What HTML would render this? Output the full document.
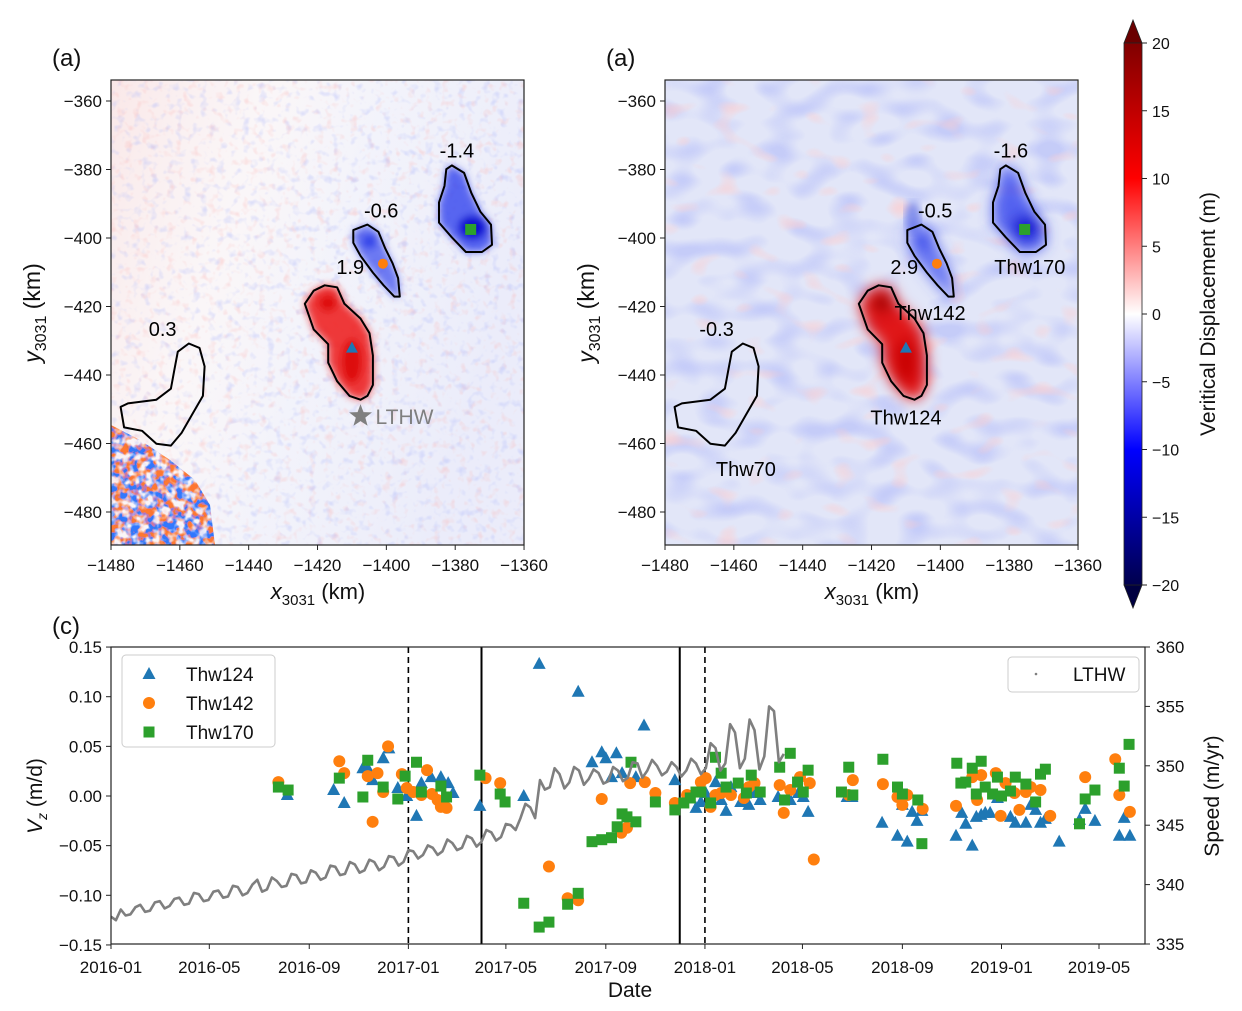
<!DOCTYPE html>
<html><head><meta charset="utf-8"><style>
html,body{margin:0;padding:0;background:#fff;}
svg{display:block;font-family:"Liberation Sans","DejaVu Sans",sans-serif;}
</style></head><body>
<svg id="fig" width="1242" height="1011" viewBox="0 0 1242 1011" xmlns="http://www.w3.org/2000/svg">
<defs>
  <filter id="speckRed" x="0" y="0" width="100%" height="100%">
    <feTurbulence type="fractalNoise" baseFrequency="0.12" numOctaves="2" seed="3"/>
    <feColorMatrix type="matrix" values="0 0 0 0 0.95  0 0 0 0 0.45  0 0 0 0 0.45  3.2 0 0 0 -1.8"/>
  </filter>
  <filter id="speckBlue" x="0" y="0" width="100%" height="100%">
    <feTurbulence type="fractalNoise" baseFrequency="0.12" numOctaves="2" seed="11"/>
    <feColorMatrix type="matrix" values="0 0 0 0 0.45  0 0 0 0 0.5  0 0 0 0 0.95  3.2 0 0 0 -1.75"/>
  </filter>
  <filter id="smoothRed" x="0" y="0" width="100%" height="100%">
    <feTurbulence type="fractalNoise" baseFrequency="0.035 0.06" numOctaves="1" seed="5"/>
    <feColorMatrix type="matrix" values="0 0 0 0 1  0 0 0 0 0.6  0 0 0 0 0.6  4 0 0 0 -2.4"/>
  </filter>
  <filter id="smoothBlue" x="0" y="0" width="100%" height="100%">
    <feTurbulence type="fractalNoise" baseFrequency="0.03 0.05" numOctaves="1" seed="8"/>
    <feColorMatrix type="matrix" values="0 0 0 0 0.45  0 0 0 0 0.5  0 0 0 0 0.95  3.5 0 0 0 -1.6"/>
  </filter>
  <filter id="darkNoise" x="0" y="0" width="100%" height="100%">
    <feTurbulence type="fractalNoise" baseFrequency="0.13" numOctaves="2" seed="21"/>
    <feColorMatrix type="matrix" values="6 0 0 0 -2.6  0 0 0 0 0.1  -6 0 0 0 3.4  0 4 0 0 -1.3"/>
  </filter>
  <filter id="blur4"><feGaussianBlur stdDeviation="4"/></filter>
  <filter id="blur7"><feGaussianBlur stdDeviation="7"/></filter>
  <linearGradient id="leftTint" x1="0" y1="0" x2="1" y2="0.35">
    <stop offset="0" stop-color="#f8e2e2" stop-opacity="0.8"/>
    <stop offset="0.35" stop-color="#f6eef1" stop-opacity="0.5"/>
    <stop offset="0.6" stop-color="#eaebf8" stop-opacity="0.6"/>
    <stop offset="1" stop-color="#e4e6f8" stop-opacity="0.75"/>
  </linearGradient>
  <linearGradient id="cbarGrad" x1="0" y1="1" x2="0" y2="0">
    <stop offset="0" stop-color="#00004d"/>
    <stop offset="0.25" stop-color="#0000ff"/>
    <stop offset="0.5" stop-color="#ffffff"/>
    <stop offset="0.75" stop-color="#ff0000"/>
    <stop offset="1" stop-color="#800000"/>
  </linearGradient>
  <clipPath id="clipL"><rect x="111" y="80" width="413" height="465"/></clipPath>
  <clipPath id="clipR"><rect x="665" y="80" width="412" height="465"/></clipPath>
  <clipPath id="clipC"><rect x="111" y="647" width="1034" height="297"/></clipPath>
  <clipPath id="clipCorner"><polygon points="111,425 140,440 170,460 195,480 210,505 215,545 111,545"/></clipPath>
</defs>
<g id="mapL"></g>
<g id="mapR"></g>
<g id="cbar"></g>
<g id="chartC"></g>
</svg>
<script>
const NS='http://www.w3.org/2000/svg';
function mk(parent,tag,attrs,text){const e=document.createElementNS(NS,tag);for(const k in attrs)e.setAttribute(k,attrs[k]);if(text!==undefined)e.textContent=text;parent.appendChild(e);return e;}

/* ---------------- Map data (km, EPSG:3031) ---------------- */
const mapXTicks=[-1480,-1460,-1440,-1420,-1400,-1380,-1360];
const mapYTicks=[-360,-380,-400,-420,-440,-460,-480];
const contourThw170=[[-1381.0,-378.8],[-1377.4,-381.0],[-1375.3,-386.9],[-1372.7,-392.3],[-1369.6,-396.1],[-1369.3,-402.0],[-1372.2,-404.1],[-1376.9,-404.1],[-1381.0,-399.8],[-1384.7,-395.5],[-1384.7,-389.6],[-1383.1,-384.8],[-1382.6,-379.9]];
const contourThw142=[[-1409.6,-397.7],[-1405.5,-396.1],[-1402.3,-398.2],[-1400.3,-403.1],[-1398.2,-407.4],[-1396.6,-411.7],[-1396.1,-417.1],[-1397.7,-417.1],[-1400.8,-413.8],[-1403.9,-410.1],[-1407.5,-405.2],[-1409.6,-401.4]];
const contourThw124=[[-1417.9,-413.8],[-1414.3,-414.4],[-1412.2,-419.2],[-1407.5,-423.5],[-1404.9,-427.8],[-1403.9,-434.3],[-1403.9,-442.9],[-1405.5,-446.1],[-1407.5,-447.2],[-1410.7,-446.1],[-1414.3,-441.8],[-1416.9,-436.4],[-1416.9,-431.0],[-1421.1,-426.7],[-1423.7,-419.2],[-1421.1,-415.4]];
const contourThw70=[[-1460.6,-433.2],[-1457.4,-430.8],[-1454.3,-432.1],[-1452.8,-437.5],[-1453.3,-446.1],[-1456.4,-451.5],[-1459.5,-456.9],[-1462.6,-460.6],[-1466.8,-460.1],[-1471.0,-456.3],[-1476.2,-455.3],[-1477.2,-449.3],[-1475.1,-448.3],[-1466.8,-447.2],[-1462.6,-444.0],[-1461.6,-438.6]];
const siteThw124=[-1410,-432], siteThw142=[-1401,-407.5], siteThw170=[-1375.5,-397.5], siteLTHW=[-1407.5,-452];
const meanLeft=['0.3','1.9','-0.6','-1.4'];
const meanRight=['-0.3','2.9','-0.5','-1.6'];
const meanLabelPos=[[-1465,-426.5],[-1410.5,-408.5],[-1401.5,-392],[-1379.5,-374.5]];

function mapAxes(x0){
  const X=km=>x0+(km+1480)*3.442;
  const Y=km=>101+(-360-km)*3.425;
  return {X,Y};
}
function pts(arr,A){return arr.map(p=>A.X(p[0]).toFixed(1)+','+A.Y(p[1]).toFixed(1)).join(' ');}

function drawMap(g,x0,smooth,means,showNames){
  const A=mapAxes(x0);
  const clip=smooth?'url(#clipR)':'url(#clipL)';
  const bg=mk(g,'g',{'clip-path':clip});
  
  
  mk(bg,'rect',{x:x0,y:80,width:413,height:465,fill:'#ffffff'});
  if(!smooth){
    mk(bg,'rect',{x:x0,y:80,width:413,height:465,fill:'url(#leftTint)'});
    mk(bg,'rect',{x:x0,y:80,width:413,height:465,filter:'url(#speckRed)',opacity:0.35});
    mk(bg,'rect',{x:x0,y:80,width:413,height:465,filter:'url(#speckBlue)',opacity:0.4});
    const c=mk(bg,'g',{'clip-path':'url(#clipCorner)'});
    mk(c,'rect',{x:x0,y:420,width:130,height:130,filter:'url(#darkNoise)',opacity:0.8});
  } else {
    mk(bg,'rect',{x:x0,y:80,width:413,height:465,fill:'#e2e6f8'});
    mk(bg,'rect',{x:x0,y:80,width:413,height:465,filter:'url(#smoothBlue)',opacity:0.6});
    mk(bg,'rect',{x:x0,y:80,width:413,height:465,filter:'url(#smoothRed)',opacity:0.7});
    mk(bg,'ellipse',{cx:A.X(-1408),cy:A.Y(-394),rx:8,ry:16,fill:'#6f7ee8',filter:'url(#blur4)',opacity:0.8});
  }
  const blobs=mk(bg,'g',{filter:smooth?'url(#blur7)':'url(#blur4)'});
  mk(blobs,'polygon',{points:pts(contourThw124,A),fill:smooth?'#e00000':'#ee2222',opacity:0.9});
  mk(blobs,'ellipse',{cx:A.X(-1410),cy:A.Y(-436),rx:10,ry:22,fill:smooth?'#c80000':'#dd0a0a'});
  mk(blobs,'ellipse',{cx:A.X(-1417),cy:A.Y(-419),rx:9,ry:8,fill:smooth?'#900000':'#dd1010'});
  mk(blobs,'polygon',{points:pts(contourThw142,A),fill:'#4a5af0',opacity:0.8});
  mk(blobs,'ellipse',{cx:A.X(-1405),cy:A.Y(-401),rx:7,ry:7,fill:'#2f3fe8'});
  mk(blobs,'polygon',{points:pts(contourThw170,A),fill:'#3c4cef',opacity:0.85});
  mk(blobs,'ellipse',{cx:A.X(-1375),cy:A.Y(-397),rx:14,ry:12,fill:'#0a10d0'});
  [['contour-thw124',contourThw124],['contour-thw142',contourThw142],['contour-thw170',contourThw170],['contour-thw70',contourThw70]].forEach(([n,c])=>{
    const p=mk(g,'polygon',{points:pts(c,A),fill:'none',stroke:'#000','stroke-width':2,'stroke-linejoin':'round'});
    
    
  });
  const t=siteThw124;const tx=A.X(t[0]),ty=A.Y(t[1]);
  const tri=mk(g,'polygon',{points:`${tx},${ty-6} ${tx-6},${ty+5} ${tx+6},${ty+5}`,fill:'#1f77b4'});
  
  
  const cir=mk(g,'circle',{cx:A.X(siteThw142[0]),cy:A.Y(siteThw142[1]),r:5,fill:'#ff7f0e'});
  
  
  const sq=mk(g,'rect',{x:A.X(siteThw170[0])-5.5,y:A.Y(siteThw170[1])-5.5,width:11,height:11,fill:'#2ca02c'});
  
  
  if(!smooth){
    const sx=A.X(siteLTHW[0]),sy=A.Y(siteLTHW[1]);let s='';
    for(let i=0;i<10;i++){const r=i%2?5:12;const a=-Math.PI/2+i*Math.PI/5;s+=(sx+r*Math.cos(a)).toFixed(1)+','+(sy+r*Math.sin(a)).toFixed(1)+' ';}
    const st=mk(g,'polygon',{points:s,fill:'#7f7f7f'});
    
    
    const lt=mk(g,'text',{x:sx+15,y:sy+8,'font-size':21,fill:'#7f7f7f'},'LTHW');
    
    
  }
  means.forEach((m,i)=>{
    const tt=mk(g,'text',{x:A.X(meanLabelPos[i][0]),y:A.Y(meanLabelPos[i][1])+7,'font-size':20,'text-anchor':'middle',fill:'#000'},m);
    
    
  });
  if(showNames){
    const nm=[['Thw170',-1374,-410.5],['Thw142',-1403,-424],['Thw124',-1410,-454.5],['Thw70',-1456.5,-469.5]];
    nm.forEach(n=>{
      const tt=mk(g,'text',{x:A.X(n[1]),y:A.Y(n[2]),'font-size':20,'text-anchor':'middle',fill:'#000'},n[0]);
      
      
    });
  }
  mk(g,'rect',{x:x0,y:80,width:413,height:465,fill:'none',stroke:'#222','stroke-width':1.2});
  mapXTicks.forEach(v=>{
    const x=A.X(v);
    mk(g,'line',{x1:x,y1:545,x2:x,y2:550,stroke:'#222'});
    const tl=mk(g,'text',{x:x,y:571,'font-size':17,'text-anchor':'middle',fill:'#111'},'\u2212'+Math.abs(v));
    
    
  });
  mapYTicks.forEach(v=>{
    const y=A.Y(v);
    mk(g,'line',{x1:x0-5,y1:y,x2:x0,y2:y,stroke:'#222'});
    const tl=mk(g,'text',{x:x0-9,y:y+6,'font-size':17,'text-anchor':'end',fill:'#111'},'\u2212'+Math.abs(v));
    
    
  });
  const xt=mk(g,'text',{x:x0+207,y:599,'font-size':22,'text-anchor':'middle',fill:'#111'});
  xt.innerHTML='<tspan font-style="italic">x</tspan><tspan font-size="15" dy="6">3031</tspan><tspan dy="-6"> (km)</tspan>';
  
  
  const yt=mk(g,'text',{x:0,y:0,'font-size':23,'text-anchor':'middle',fill:'#111',transform:`translate(${x0-71},313) rotate(-90)`});
  yt.innerHTML='<tspan font-style="italic">y</tspan><tspan font-size="16" dy="6">3031</tspan><tspan dy="-6"> (km)</tspan>';
  
  
  const pl=mk(g,'text',{x:x0-59,y:66,'font-size':24,fill:'#111'},'(a)');
  
  
}
drawMap(document.getElementById('mapL'),111,false,meanLeft,false);
drawMap(document.getElementById('mapR'),665,true,meanRight,true);

/* ---------------- Colorbar ---------------- */
const cbTicks=[20,15,10,5,0,-5,-10,-15,-20];
(function(){
  const g=document.getElementById('cbar');
  const Yc=v=>314-v*13.55;
  mk(g,'polygon',{points:`1124,${Yc(20)} 1133,20 1142,${Yc(20)}`,fill:'#6a0000',stroke:'#222','stroke-width':0.8});
  mk(g,'polygon',{points:`1124,${Yc(-20)} 1133,608 1142,${Yc(-20)}`,fill:'#000040',stroke:'#222','stroke-width':0.8});
  mk(g,'rect',{x:1124,y:Yc(20),width:18,height:Yc(-20)-Yc(20),fill:'url(#cbarGrad)',stroke:'#222','stroke-width':0.8});
  cbTicks.forEach(v=>{
    mk(g,'line',{x1:1142,y1:Yc(v),x2:1147,y2:Yc(v),stroke:'#222'});
    const t=mk(g,'text',{x:1152,y:Yc(v)+6,'font-size':16,fill:'#111'},v<0?'\u2212'+Math.abs(v):String(v));
    
    
  });
  const ti=mk(g,'text',{x:0,y:0,'font-size':21,'text-anchor':'middle',fill:'#111',transform:'translate(1215,314) rotate(-90)'},'Veritical Displacement (m)');
  
  
})();

/* ---------------- Chart (c) data ---------------- */
const xTickLabels=['2016-01','2016-05','2016-09','2017-01','2017-05','2017-09','2018-01','2018-05','2018-09','2019-01','2019-05'];
const xTickDays=[0,121,244,366,486,609,731,851,974,1096,1216];
const vzTicks=[0.15,0.10,0.05,0.00,-0.05,-0.10,-0.15];
const speedTicks=[360,355,350,345,340,335];
const thw124Days=[217,274,287,310,316,322,335,342,353,364,376,382,394,406,415,421,454,508,527,575,592,604,609,622,616,629,646,656,694,720,726,732,744,751,757,763,775,785,790,799,821,836,846,852,858,906,912,949,968,974,980,986,992,998,1040,1047,1052,1060,1065,1071,1076,1082,1091,1107,1113,1126,1132,1138,1144,1150,1167,1192,1199,1211,1241,1247,1254];
const thw124Vz=[0.001,0.006,-0.007,0.028,0.028,0.016,0.038,0.048,0.008,0.0,-0.02,0.013,0.019,0.019,0.013,0.003,-0.01,0.0,0.133,0.105,0.034,0.044,0.038,0.043,0.019,0.023,0.019,0.071,0.016,-0.012,-0.006,0.003,0.014,-0.004,-0.015,0.009,-0.006,-0.009,0.003,-0.004,-0.001,-0.004,0.003,-0.001,-0.016,-0.001,-0.001,-0.027,-0.04,-0.009,-0.046,-0.016,-0.025,-0.015,-0.04,-0.017,-0.028,-0.05,-0.021,-0.019,-0.017,-0.017,-0.002,-0.021,-0.027,-0.027,-0.009,-0.014,-0.027,-0.023,-0.046,-0.024,-0.013,-0.025,-0.04,-0.022,-0.04];
const thw142Days=[206,281,287,316,322,328,335,341,358,364,372,382,389,395,402,406,413,461,479,539,562,575,604,628,635,639,657,670,694,709,726,732,738,744,751,763,779,785,792,823,828,836,848,860,865,908,913,950,968,974,980,999,1040,1060,1066,1071,1089,1095,1101,1112,1118,1126,1132,1144,1156,1199,1236,1241,1254];
const thw142Vz=[0.014,0.035,0.023,0.020,-0.026,0.023,0.004,0.050,0.022,0.008,0.004,0.001,0.026,0.002,-0.004,-0.011,-0.012,0.018,0.013,-0.071,-0.103,-0.105,-0.003,-0.037,-0.032,0.013,0.014,0.003,-0.007,0.001,0.014,0.018,-0.011,0.001,0.003,0.001,-0.002,0.009,0.013,0.011,-0.017,0.006,0.019,0.013,-0.064,0.001,0.016,0.012,-0.001,-0.009,0.001,-0.013,-0.010,0.019,-0.004,0.021,0.023,-0.020,0.013,0.003,-0.014,0.004,0.009,0.006,-0.020,0.019,0.037,0.001,-0.016];
const thw170Days=[206,218,281,310,316,335,353,362,376,382,406,413,454,479,485,508,527,539,562,575,592,604,616,623,629,635,646,640,670,694,705,713,720,726,738,744,751,757,772,782,788,799,823,829,836,845,852,858,899,908,913,950,968,974,993,998,1041,1046,1052,1060,1065,1071,1076,1085,1091,1096,1107,1113,1126,1138,1144,1150,1192,1199,1211,1241,1247,1253];
const thw170Vz=[0.009,0.006,0.018,-0.001,0.036,0.009,-0.003,0.020,0.034,0.004,0.010,-0.001,0.021,0.002,-0.006,-0.108,-0.132,-0.127,-0.109,-0.098,-0.046,-0.044,-0.042,-0.031,-0.018,-0.021,-0.026,0.034,-0.006,-0.014,-0.007,-0.002,0.004,0.004,-0.007,0.039,0.023,0.009,0.013,0.003,0.021,0.004,0.029,-0.004,0.043,0.014,0.004,0.026,0.004,0.029,0.001,0.037,0.009,0.002,-0.004,-0.048,0.033,0.013,0.014,0.028,0.002,0.035,0.009,0.002,0.019,0.000,0.005,0.019,0.012,-0.006,0.022,0.027,-0.028,-0.003,0.006,0.028,0.010,0.052];
const lthwDays=[0,6,12,18,24,30,36,42,48,54,60,66,72,78,84,90,96,102,108,114,120,126,132,138,144,150,156,162,168,174,180,186,192,198,204,210,216,222,228,234,240,246,252,258,264,270,276,282,288,294,300,306,312,318,324,330,336,342,348,354,360,366,372,378,384,390,396,402,408,414,420,426,432,438,444,450,456,462,468,474,480,486,492,498,504,510,516,522,528,534,540,546,552,558,564,570,576,582,588,594,600,606,612,618,624,630,636,642,648,654,660,666,672,678,684,690,696,702,708,714,720,726,732,738,744,750,756,762,768,774,780,786,792,798,804,810,816,822,828];
const lthwSpeed=[337.3,337.0,337.9,337.4,337.5,338.1,338.3,337.7,337.8,338.5,338.6,338.0,338.2,338.8,338.9,338.3,338.4,339.3,339.2,338.6,338.7,339.4,339.5,338.9,339.0,339.9,339.8,339.1,339.3,340.0,340.4,339.4,339.6,340.6,340.3,339.8,339.9,340.9,340.8,340.1,340.2,341.2,341.0,340.4,340.6,341.6,341.5,340.8,340.9,341.9,341.7,341.0,341.2,342.1,341.9,341.2,341.5,342.4,342.3,341.6,341.9,342.9,342.8,342.2,342.5,343.3,343.1,342.5,342.8,343.8,343.5,342.9,343.1,344.1,343.9,343.2,343.6,344.6,344.4,343.7,344.0,345.1,345.0,344.6,345.6,346.8,346.5,345.6,348.8,348.0,348.2,349.8,349.3,348.1,348.6,349.9,349.6,348.4,348.9,349.7,349.4,348.5,348.7,349.9,349.6,348.7,349.0,350.3,350.2,349.0,349.6,350.5,350.0,349.2,349.5,350.3,349.9,349.1,349.6,350.6,350.2,349.3,349.8,351.9,351.5,349.6,350.2,353.5,352.8,349.8,350.6,353.9,353.0,349.7,350.8,355.0,354.6,350.3,351.0];
const dashedEventDays=[366,731];
const solidEventDays=[456,700];

(function(){
  const g=document.getElementById('chartC');
  const L=111,R=1145,T=647,B=944;
  const X=d=>L+d*0.8125;
  const Yv=v=>796-v*993;
  const Ys=s=>647+(360-s)*11.88;
  mk(g,'rect',{x:L,y:T,width:R-L,height:B-T,fill:'#fff'});
  const pc=mk(g,'g',{'clip-path':'url(#clipC)'});
  dashedEventDays.forEach(d=>{const l=mk(pc,'line',{x1:X(d),y1:T,x2:X(d),y2:B,stroke:'#000','stroke-width':1.6,'stroke-dasharray':'6,4'});
    
    });
  solidEventDays.forEach(d=>{const l=mk(pc,'line',{x1:X(d),y1:T,x2:X(d),y2:B,stroke:'#000','stroke-width':2});
    
    });
  const s1=mk(pc,'g',{});
  
  
  thw124Days.forEach((d,i)=>{const x=X(d),y=Yv(thw124Vz[i]);
    const m=mk(s1,'polygon',{points:`${x},${y-7} ${x-6.5},${y+5} ${x+6.5},${y+5}`,fill:'#1f77b4'});
    
    });
  const s2=mk(pc,'g',{});
  
  
  thw142Days.forEach((d,i)=>{const m=mk(s2,'circle',{cx:X(d),cy:Yv(thw142Vz[i]),r:6,fill:'#ff7f0e'});
    
    });
  const s3=mk(pc,'g',{});
  
  
  thw170Days.forEach((d,i)=>{const m=mk(s3,'rect',{x:X(d)-5.5,y:Yv(thw170Vz[i])-5.5,width:11,height:11,fill:'#2ca02c'});
    
    });
  const line=mk(pc,'polyline',{points:lthwDays.map((d,i)=>X(d).toFixed(1)+','+Ys(lthwSpeed[i]).toFixed(1)).join(' '),fill:'none',stroke:'#7f7f7f','stroke-width':2.6,'stroke-linejoin':'round'});
  
  
  mk(g,'rect',{x:L,y:T,width:R-L,height:B-T,fill:'none',stroke:'#222','stroke-width':1.2});
  xTickDays.forEach((d,i)=>{const x=X(d);
    mk(g,'line',{x1:x,y1:B,x2:x,y2:B+5,stroke:'#222'});
    const t=mk(g,'text',{x:x,y:973,'font-size':17,'text-anchor':'middle',fill:'#111'},xTickLabels[i]);
    
    });
  vzTicks.forEach(v=>{const y=Yv(v);
    mk(g,'line',{x1:L-5,y1:y,x2:L,y2:y,stroke:'#222'});
    const t=mk(g,'text',{x:L-9,y:y+6,'font-size':17,'text-anchor':'end',fill:'#111'},(v<0?'\u2212':'')+Math.abs(v).toFixed(2));
    
    });
  speedTicks.forEach(s=>{const y=Ys(s);
    mk(g,'line',{x1:R,y1:y,x2:R+5,y2:y,stroke:'#222'});
    const t=mk(g,'text',{x:R+11,y:y+6,'font-size':17,fill:'#111'},String(s));
    
    });
  const xt=mk(g,'text',{x:630,y:997,'font-size':21,'text-anchor':'middle',fill:'#111'},'Date');
  
  
  const yt=mk(g,'text',{x:0,y:0,'font-size':21,'text-anchor':'middle',fill:'#111',transform:'translate(42,796) rotate(-90)'});
  yt.innerHTML='<tspan font-style="italic">V</tspan><tspan font-size="14" font-style="italic" dy="5">z</tspan><tspan dy="-5"> (m/d)</tspan>';
  
  
  const y2=mk(g,'text',{x:0,y:0,'font-size':21,'text-anchor':'middle',fill:'#111',transform:'translate(1219,796) rotate(-90)'},'Speed (m/yr)');
  
  
  const pl=mk(g,'text',{x:52,y:634,'font-size':24,fill:'#111'},'(c)');
  
  
  const lg=mk(g,'g',{});
  
  
  mk(lg,'rect',{x:122,y:655,width:153,height:92,rx:4,fill:'#fff',stroke:'#ccc'});
  const e1=mk(lg,'polygon',{points:'149,667 142.5,679 155.5,679',fill:'#1f77b4'});
  
  
  mk(lg,'text',{x:186,y:681,'font-size':19,fill:'#111'},'Thw124');
  const e2=mk(lg,'circle',{cx:149,cy:703,r:6,fill:'#ff7f0e'});
  
  
  mk(lg,'text',{x:186,y:710,'font-size':19,fill:'#111'},'Thw142');
  const e3=mk(lg,'rect',{x:143.5,y:726.5,width:11,height:11,fill:'#2ca02c'});
  
  
  mk(lg,'text',{x:186,y:739,'font-size':19,fill:'#111'},'Thw170');
  const lg2=mk(g,'g',{});
  
  
  mk(lg2,'rect',{x:1008,y:657,width:131,height:35,rx:4,fill:'#fff',stroke:'#ccc'});
  mk(lg2,'circle',{cx:1036,cy:674,r:1.3,fill:'#7f7f7f'});
  mk(lg2,'text',{x:1073,y:681,'font-size':19,fill:'#111'},'LTHW');
})();
</script>
</body></html>
